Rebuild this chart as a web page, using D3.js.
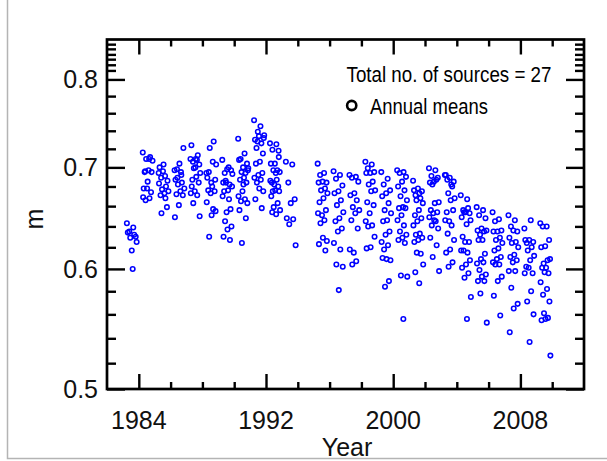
<!DOCTYPE html>
<html><head><meta charset="utf-8">
<script src="https://cdn.jsdelivr.net/npm/d3@7"></script>
<style>html,body{margin:0;padding:0;background:#fff;overflow:hidden;} svg{display:block;}</style>
</head><body><svg id="c" width="607" height="461"></svg>
<script>
// ---- axis ticks ----
const xMajorTicks = [1984, 1992, 2000, 2008];
const xMinorTicks = [1986, 1988, 1990, 1994, 1996, 1998, 2002, 2004, 2006, 2010];
const yMajorTicks = [0.5, 0.6, 0.7, 0.8];
const yTickLabels = ["0.5", "0.6", "0.7", "0.8"];
const yMinorTicks = [0.52, 0.54, 0.56, 0.58, 0.62, 0.64, 0.66, 0.68, 0.72, 0.74, 0.76, 0.78,
                     0.811, 0.818, 0.825, 0.831, 0.838, 0.844];

// ---- annual means (one array per year, all sources) ----
const years = [1983,1984,1985,1986,1987,1988,1989,1990,1991,1992,1993,
               1995,1996,1997,1998,1999,2000,2001,2002,2003,2004,2005,2006,2007,2008,2009];
const m1983 = [0.643,0.639,0.635,0.630,0.617,0.634,0.632,0.629,0.625,0.600];
const m1984 = [0.716,0.709,0.696,0.695,0.685,0.678,0.711,0.709,0.707,0.697,0.695,0.674,0.678,0.669,0.668,0.666];
const m1985 = [0.694,0.691,0.689,0.686,0.703,0.700,0.680,0.677,0.675,0.673,0.671,0.659,0.696,0.683,0.668,0.653];
const m1986 = [0.697,0.695,0.698,0.721,0.704,0.687,0.684,0.682,0.678,0.675,0.672,0.671,0.661,0.649,0.692,0.689];
const m1987 = [0.709,0.708,0.706,0.703,0.700,0.724,0.713,0.699,0.694,0.690,0.687,0.684,0.675,0.673,0.671,0.663,0.650,0.709,0.680];
const m1988 = [0.694,0.706,0.695,0.687,0.684,0.689,0.728,0.721,0.703,0.680,0.676,0.675,0.673,0.664,0.657,0.630,0.655,0.651];
const m1989 = [0.708,0.700,0.694,0.697,0.698,0.684,0.682,0.686,0.680,0.676,0.675,0.657,0.654,0.670,0.667,0.645,0.640,0.637,0.630,0.627,0.684,0.693];
const m1990 = [0.731,0.715,0.709,0.704,0.700,0.708,0.694,0.695,0.697,0.689,0.687,0.684,0.675,0.670,0.667,0.665,0.663,0.682,0.656,0.648,0.624,0.699];
const m1991 = [0.752,0.745,0.721,0.715,0.734,0.730,0.726,0.728,0.732,0.706,0.704,0.694,0.692,0.689,0.687,0.684,0.675,0.678,0.667,0.658,0.739,0.735];
const m1992 = [0.726,0.725,0.719,0.711,0.704,0.704,0.697,0.697,0.695,0.694,0.684,0.680,0.682,0.686,0.687,0.675,0.675,0.676,0.670,0.663,0.659,0.656,0.652,0.654,0.718];
const m1993 = [0.706,0.703,0.684,0.667,0.663,0.648,0.647,0.642,0.622];
const m1995 = [0.704,0.694,0.692,0.684,0.685,0.684,0.678,0.676,0.673,0.668,0.664,0.656,0.651,0.653,0.646,0.643,0.626,0.629,0.623,0.617];
const m1996 = [0.696,0.692,0.688,0.681,0.675,0.673,0.666,0.661,0.654,0.648,0.645,0.638,0.635,0.624,0.618,0.604,0.602,0.581];
const m1997 = [0.692,0.690,0.689,0.685,0.673,0.671,0.666,0.659,0.656,0.653,0.646,0.638,0.615,0.618,0.607,0.604];
const m1998 = [0.706,0.703,0.699,0.695,0.694,0.694,0.685,0.682,0.676,0.675,0.664,0.661,0.653,0.645,0.641,0.640,0.630,0.620,0.619];
const m1999 = [0.695,0.688,0.682,0.676,0.673,0.670,0.663,0.656,0.653,0.646,0.645,0.635,0.632,0.625,0.622,0.618,0.608,0.609,0.610,0.589,0.584];
const m2000 = [0.697,0.695,0.694,0.690,0.685,0.680,0.676,0.670,0.666,0.659,0.658,0.658,0.651,0.646,0.641,0.635,0.632,0.629,0.627,0.624,0.594,0.593,0.556];
const m2001 = [0.686,0.673,0.671,0.675,0.678,0.676,0.668,0.666,0.663,0.656,0.651,0.648,0.645,0.641,0.633,0.632,0.629,0.627,0.625,0.614,0.615,0.604,0.587,0.597];
const m2002 = [0.699,0.697,0.691,0.689,0.685,0.684,0.687,0.682,0.664,0.663,0.656,0.654,0.653,0.649,0.645,0.641,0.638,0.646,0.629,0.622,0.611,0.598];
const m2003 = [0.692,0.682,0.687,0.685,0.689,0.692,0.680,0.673,0.668,0.666,0.654,0.656,0.645,0.646,0.641,0.633,0.627,0.618,0.615,0.606,0.602];
const m2004 = [0.671,0.667,0.656,0.653,0.654,0.649,0.658,0.654,0.646,0.642,0.630,0.625,0.625,0.617,0.615,0.617,0.608,0.604,0.601,0.596,0.592,0.575,0.556];
const m2005 = [0.659,0.656,0.651,0.648,0.638,0.636,0.635,0.632,0.636,0.627,0.627,0.614,0.609,0.605,0.606,0.599,0.595,0.593,0.589,0.589,0.578,0.553];
const m2006 = [0.654,0.647,0.645,0.636,0.635,0.635,0.629,0.627,0.624,0.619,0.617,0.611,0.609,0.606,0.604,0.604,0.593,0.589,0.576,0.559];
const m2007 = [0.651,0.646,0.640,0.635,0.636,0.629,0.625,0.624,0.620,0.613,0.611,0.608,0.606,0.598,0.598,0.583,0.569,0.565,0.545];
const m2008 = [0.638,0.646,0.624,0.625,0.627,0.627,0.620,0.617,0.612,0.608,0.602,0.596,0.601,0.596,0.580,0.571,0.560,0.537];
const m2009 = [0.643,0.640,0.640,0.627,0.621,0.620,0.608,0.605,0.609,0.601,0.601,0.596,0.597,0.588,0.582,0.577,0.571,0.556,0.555,0.557,0.561,0.526];
const meansByYear = [m1983,m1984,m1985,m1986,m1987,m1988,m1989,m1990,m1991,m1992,m1993,
                     m1995,m1996,m1997,m1998,m1999,m2000,m2001,m2002,m2003,m2004,m2005,m2006,m2007,m2008,m2009];

const legendTitle = "Total no. of sources = 27";
const legendLabel = "Annual means";
const xTitle = "Year";
const yTitle = "m";

// ---- drawing ----
const svg = d3.select("#c");
const L = 107, R = 584, T = 39.5, B = 389;
const x = d3.scaleLinear().domain([1982, 2012]).range([L, R]);
const y = d3.scaleLog().domain([0.5, 0.85]).range([B, T]);

// outer grey border
svg.append("rect").attr("x", 7.5).attr("y", -5).attr("width", 700).attr("height", 463.5)
  .attr("fill", "none").attr("stroke", "#b4b4b4").attr("stroke-width", 1.5);

// points
const pts = [];
years.forEach((yr, k) => {
  meansByYear[k].forEach((v, i) => {
    pts.push({ t: yr + 0.25 + 0.65 * ((i * 0.618034) % 1), v });
  });
});
svg.append("g").selectAll("circle").data(pts).join("circle")
  .attr("cx", d => x(d.t)).attr("cy", d => y(d.v)).attr("r", 2.25)
  .attr("fill", "none").attr("stroke", "#0000ff").attr("stroke-width", 1.55);

// axes (ticks inward on all four sides)
function styleAxis(g) {
  g.select(".domain").remove();
  g.selectAll("line").attr("stroke", "#000").attr("stroke-width", 2.4);
  g.selectAll("text").remove();
}
const mk = (gen, vals, size, tr) =>
  svg.append("g").attr("transform", tr).call(gen.tickValues(vals).tickSize(size).tickSizeOuter(0).tickFormat("")).call(styleAxis);

mk(d3.axisBottom(x), xMajorTicks, -15, `translate(0,${B})`);
mk(d3.axisBottom(x), xMinorTicks, -7, `translate(0,${B})`);
mk(d3.axisTop(x), xMajorTicks, -15, `translate(0,${T})`);
mk(d3.axisTop(x), xMinorTicks, -7, `translate(0,${T})`);
mk(d3.axisLeft(y), yMajorTicks, -18, `translate(${L},0)`);
mk(d3.axisLeft(y), yMinorTicks, -9, `translate(${L},0)`);
mk(d3.axisRight(y), yMajorTicks, -18, `translate(${R},0)`);
mk(d3.axisRight(y), yMinorTicks, -9, `translate(${R},0)`);

// frame
svg.append("rect").attr("x", L).attr("y", T).attr("width", R - L).attr("height", B - T)
  .attr("fill", "none").attr("stroke", "#000").attr("stroke-width", 2.7);

// tick labels
const fontAx = "'Liberation Sans', Arial, sans-serif";
svg.append("g").selectAll("text").data(xMajorTicks).join("text")
  .attr("x", d => x(d)).attr("y", 429).attr("text-anchor", "middle")
  .attr("font-family", fontAx).attr("font-size", 25).attr("fill", "#111").text(d => d);
svg.append("g").selectAll("text").data(yMajorTicks).join("text")
  .attr("x", 98).attr("y", d => y(d) + 9).attr("text-anchor", "end")
  .attr("font-family", fontAx).attr("font-size", 25).attr("fill", "#111")
  .text((d, i) => yTickLabels[i]);

// axis titles
svg.append("text").attr("x", x(1997.1)).attr("y", 456).attr("text-anchor", "middle")
  .attr("font-family", fontAx).attr("font-size", 25).attr("fill", "#111").text(xTitle);
svg.append("text").attr("transform", "translate(42.5,219) rotate(-90)").attr("text-anchor", "middle")
  .attr("font-family", fontAx).attr("font-size", 25).attr("fill", "#111").text(yTitle);

// legend
const fontLg = "'Liberation Sans Narrow', 'Arial Narrow', 'Liberation Sans', sans-serif";
svg.append("text").attr("x", 346.5).attr("y", 81.5)
  .attr("font-family", fontLg).attr("font-size", 22).attr("fill", "#000")
  .attr("textLength", 205).attr("lengthAdjust", "spacingAndGlyphs").text(legendTitle);
svg.append("circle").attr("cx", 351.7).attr("cy", 105.5).attr("r", 4.6)
  .attr("fill", "none").attr("stroke", "#000").attr("stroke-width", 2.6);
svg.append("text").attr("x", 370).attr("y", 114)
  .attr("font-family", fontLg).attr("font-size", 22).attr("fill", "#000")
  .attr("textLength", 118).attr("lengthAdjust", "spacingAndGlyphs").text(legendLabel);
</script>
</body></html>
